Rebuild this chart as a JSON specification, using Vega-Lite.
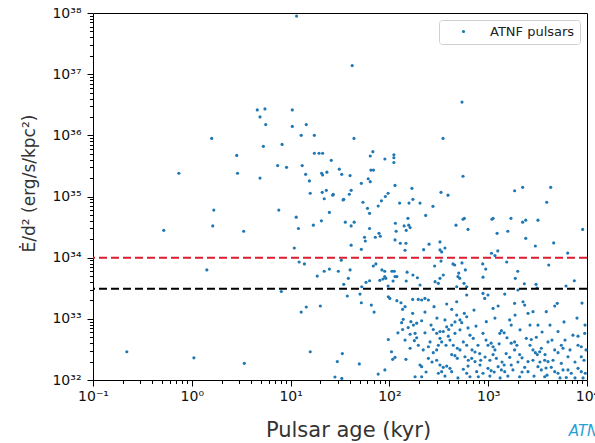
{
 "$schema": "https://vega.github.io/schema/vega-lite/v6.json",
 "width": 494, "height": 367,
 "autosize": {"type": "none"},
 "padding": {"left": 93, "top": 13, "right": 8, "bottom": 63},
 "background": "white",
 "config": {
  "font": "DejaVu Sans",
  "view": {"stroke": "black", "strokeWidth": 1},
  "axis": {"grid": false, "domain": false, "tickColor": "black", "tickWidth": 1, "labelColor": "#111", "labelFontSize": 14, "labelFlush": false, "labelOverlap": false, "titleColor": "#333", "titleFontWeight": "normal"}
 },
 "title": {"text": "ATNF", "orient": "bottom", "anchor": "end", "align": "left", "dx": -30, "dy": -20, "color": "#2a9fd6", "fontStyle": "italic", "fontWeight": "normal", "fontSize": 15},
 "layer": [
  {
   "data": {"values": [
{"age":11.5,"edot":8.9e37},{"age":1.59,"edot":8.9e35},{"age":0.74,"edot":2.4e35},{"age":2.85,"edot":4.7e35},{"age":2.9,"edot":2.4e35},{"age":4.9,"edot":2.0e35},{"age":4.6,"edot":2.6e36},{"age":5.5,"edot":2.7e36},{"age":4.9,"edot":2.0e36},{"age":5.6,"edot":1.5e36},
{"age":5.3,"edot":6.6e35},{"age":8.2,"edot":7.1e35},{"age":7.4,"edot":3.2e35},{"age":9.1,"edot":3.0e35},{"age":10.4,"edot":2.6e36},{"age":10.4,"edot":1.4e36},{"age":14.4,"edot":1.5e36},{"age":12.8,"edot":1.0e36},{"age":17.4,"edot":1.0e36},{"age":17.4,"edot":5.1e35},
{"age":19.4,"edot":5.1e35},{"age":21.1,"edot":5.1e35},{"age":13.1,"edot":3.2e35},{"age":14.2,"edot":2.3e35},{"age":15.5,"edot":1.8e35},{"age":20.6,"edot":2.4e35},{"age":21.1,"edot":2.25e35},{"age":23.3,"edot":2.5e35},{"age":25.8,"edot":3.9e35},{"age":15.8,"edot":1.13e35},
{"age":20.9,"edot":1.17e35},{"age":23,"edot":1.26e35},{"age":26.7,"edot":1.05e35},{"age":21.9,"edot":9.2e34},{"age":31.1,"edot":2.8e35},{"age":42,"edot":1.38e37},{"age":543,"edot":3.5e36},{"age":43.8,"edot":8.9e35},{"age":349,"edot":8.9e35},{"age":68,"edot":5.4e35},
{"age":64,"edot":4.6e35},{"age":90,"edot":4.1e35},{"age":111,"edot":4.8e35},{"age":111,"edot":4.3e35},{"age":111,"edot":3.6e35},{"age":32.9,"edot":2.3e35},{"age":40,"edot":2.2e35},{"age":65,"edot":2.7e35},{"age":69,"edot":2.7e35},{"age":61,"edot":1.95e35},
{"age":64,"edot":1.75e35},{"age":52,"edot":1.64e35},{"age":114,"edot":1.52e35},{"age":556,"edot":2.14e35},{"age":169,"edot":1.36e35},{"age":333,"edot":1.17e35},{"age":392,"edot":1.05e35},{"age":1850,"edot":1.24e35},{"age":2230,"edot":1.41e35},{"age":4290,"edot":1.41e35},
{"age":41,"edot":1.26e35},{"age":39.3,"edot":1.09e35},{"age":27,"edot":1.09e35},{"age":97,"edot":1.13e35},{"age":91,"edot":1.0e35},{"age":34.5,"edot":9.0e34},{"age":173,"edot":9.0e34},{"age":0.22,"edot":2.9e32},{"age":0.52,"edot":2.8e34},{"age":1.67,"edot":6.0e34},
{"age":1.63,"edot":3.3e34},{"age":1.42,"edot":6.3e33},{"age":1.05,"edot":2.3e32},{"age":3.35,"edot":2.7e34},{"age":3.4,"edot":1.87e32},{"age":7.6,"edot":6.0e34},{"age":8.05,"edot":2.8e33},{"age":11.4,"edot":4.6e34},{"age":12,"edot":3.0e34},{"age":10.9,"edot":1.44e34},
{"age":17,"edot":3.4e34},{"age":20.5,"edot":4.0e34},{"age":24.7,"edot":5.5e34},{"age":12.2,"edot":8.5e33},{"age":13.8,"edot":7.9e33},{"age":18.6,"edot":5.0e33},{"age":21.9,"edot":6.0e33},{"age":24.7,"edot":6.5e33},{"age":30.4,"edot":6.0e33},{"age":12.8,"edot":1.29e33},
{"age":14.4,"edot":1.56e33},{"age":20,"edot":1.62e33},{"age":15.8,"edot":2.9e32},{"age":29.7,"edot":2.0e32},{"age":54,"edot":8.05e34},{"age":60,"edot":6.4e34},{"age":63,"edot":5.3e34},{"age":77,"edot":7.0e34},{"age":83,"edot":8.5e34},{"age":127,"edot":7.8e34},
{"age":158,"edot":7.8e34},{"age":204,"edot":7.8e34},{"age":233,"edot":4.9e34},{"age":35.8,"edot":3.8e34},{"age":44,"edot":3.8e34},{"age":41,"edot":3.3e34},{"age":63,"edot":3.0e34},{"age":78.5,"edot":2.5e34},{"age":72,"edot":2.16e34},{"age":81,"edot":2.24e34},
{"age":56,"edot":2.16e34},{"age":57,"edot":1.87e34},{"age":115,"edot":3.65e34},{"age":154,"edot":4.4e34},{"age":141,"edot":3.3e34},{"age":157,"edot":3.4e34},{"age":162,"edot":3.1e34},{"age":117,"edot":2.7e34},{"age":148,"edot":2.8e34},{"age":114,"edot":1.95e34},
{"age":129,"edot":1.72e34},{"age":147,"edot":1.72e34},{"age":144,"edot":1.32e34},{"age":41,"edot":1.6e34},{"age":52,"edot":1.37e34},{"age":222,"edot":1.35e34},{"age":252,"edot":1.66e34},{"age":32.6,"edot":9.1e33},{"age":40,"edot":6.3e33},{"age":38.4,"edot":4.6e33},
{"age":68.7,"edot":7.3e33},{"age":73,"edot":7.9e33},{"age":84,"edot":6.3e33},{"age":89.6,"edot":6.0e33},{"age":89.6,"edot":4.9e33},{"age":92,"edot":4.6e33},{"age":106,"edot":6.0e33},{"age":112,"edot":6.0e33},{"age":114,"edot":4.9e33},{"age":119,"edot":4.9e33},
{"age":109,"edot":4.15e33},{"age":151,"edot":5.8e33},{"age":173,"edot":5.2e33},{"age":148,"edot":4.15e33},{"age":34.5,"edot":3.67e33},{"age":58,"edot":3.95e33},{"age":63,"edot":4.2e33},{"age":80,"edot":4.26e33},{"age":86,"edot":4.48e33},{"age":192,"edot":4.7e33},
{"age":276,"edot":6.9e34},{"age":3910,"edot":8.05e34},{"age":556,"edot":4.25e34},{"age":573,"edot":4.4e34},{"age":1090,"edot":4.25e34},{"age":1120,"edot":4.4e34},{"age":1700,"edot":4.4e34},{"age":2230,"edot":3.8e34},{"age":2400,"edot":4.1e34},{"age":3190,"edot":4.1e34},
{"age":472,"edot":3.4e34},{"age":625,"edot":2.9e34},{"age":1230,"edot":2.5e34},{"age":1580,"edot":2.7e34},{"age":2400,"edot":2.07e34},{"age":9040,"edot":2.9e34},{"age":325,"edot":1.81e34},{"age":325,"edot":1.34e34},{"age":338,"edot":1.24e34},{"age":365,"edot":1.44e34},
{"age":3000,"edot":1.55e34},{"age":4600,"edot":1.74e34},{"age":1080,"edot":1.18e34},{"age":1170,"edot":1.08e34},{"age":1250,"edot":1.29e34},{"age":6380,"edot":1.19e34},{"age":333,"edot":8.8e33},{"age":287,"edot":7.3e33},{"age":440,"edot":7.9e33},{"age":458,"edot":7.6e33},
{"age":543,"edot":8.2e33},{"age":880,"edot":7.9e33},{"age":1540,"edot":8.5e33},{"age":4100,"edot":7.6e33},{"age":587,"edot":6.3e33},{"age":944,"edot":6.5e33},{"age":503,"edot":5.6e33},{"age":1990,"edot":6.0e33},{"age":351,"edot":5.2e33},{"age":325,"edot":4.6e33},
{"age":494,"edot":4.9e33},{"age":515,"edot":4.6e33},{"age":886,"edot":4.8e33},{"age":1880,"edot":4.6e33},{"age":7440,"edot":4.2e33},{"age":290,"edot":4.05e33},{"age":313,"edot":3.8e33},{"age":569,"edot":3.8e33},{"age":2320,"edot":3.75e33},{"age":3050,"edot":3.67e33},
{"age":34,"edot":8.8e34},{"age":52.5,"edot":3.35e33},{"age":37.5,"edot":2.36e33},{"age":50.4,"edot":2.54e33},{"age":52,"edot":1.83e33},{"age":65.6,"edot":1.68e33},{"age":70,"edot":1.29e33},{"age":33.4,"edot":2.7e32},{"age":49.6,"edot":1.83e32},{"age":33,"edot":1.06e32},
{"age":97,"edot":3.44e33},{"age":204,"edot":3.57e33},{"age":480,"edot":3.35e33},{"age":606,"edot":3.35e33},{"age":97.5,"edot":2.3e33},{"age":101,"edot":2.16e33},{"age":119,"edot":1.98e33},{"age":131,"edot":1.83e33},{"age":136,"edot":1.43e33},{"age":144,"edot":1.58e33},
{"age":172,"edot":2.08e33},{"age":196,"edot":2.08e33},{"age":212,"edot":2.03e33},{"age":229,"edot":2.16e33},{"age":248,"edot":2.03e33},{"age":138,"edot":9.8e32},{"age":133,"edot":8.65e32},{"age":172,"edot":1.23e33},{"age":165,"edot":8.98e32},{"age":175,"edot":7.9e32},
{"age":189,"edot":8.5e32},{"age":212,"edot":9.3e32},{"age":136,"edot":6.7e32},{"age":155,"edot":7.2e32},{"age":162,"edot":5.6e32},{"age":182,"edot":5.8e32},{"age":189,"edot":4.9e32},{"age":179,"edot":4.4e32},{"age":264,"edot":7.9e32},{"age":278,"edot":6.7e32},
{"age":301,"edot":5.8e32},{"age":325,"edot":6.2e32},{"age":351,"edot":6.2e32},{"age":380,"edot":7.4e32},{"age":398,"edot":6.7e32},{"age":427,"edot":7.9e32},{"age":325,"edot":4.8e32},{"age":338,"edot":4.2e32},{"age":313,"edot":3.7e32},{"age":258,"edot":4.2e32},
{"age":248,"edot":3.5e32},{"age":301,"edot":3.1e32},{"age":278,"edot":2.8e32},{"age":220,"edot":3.1e32},{"age":395,"edot":5.2e32},{"age":410,"edot":4.5e32},{"age":461,"edot":5.8e32},{"age":443,"edot":3.7e32},{"age":487,"edot":3.3e32},{"age":518,"edot":3.1e32},
{"age":560,"edot":4.2e32},{"age":606,"edot":3.7e32},{"age":654,"edot":5.4e32},{"age":706,"edot":4.8e32},{"age":427,"edot":2.6e32},{"age":461,"edot":2.5e32},{"age":487,"edot":2.26e32},{"age":582,"edot":2.4e32},{"age":629,"edot":2.1e32},{"age":681,"edot":2.26e32},
{"age":735,"edot":2.0e32},{"age":301,"edot":2.1e32},{"age":325,"edot":1.76e32},{"age":248,"edot":2.26e32},{"age":351,"edot":1.61e32},{"age":380,"edot":1.69e32},{"age":204,"edot":1.76e32},{"age":212,"edot":1.65e32},{"age":147,"edot":2.18e32},{"age":162,"edot":3.3e32},
{"age":97.5,"edot":4.6e32},{"age":105,"edot":2.9e32},{"age":114,"edot":2.35e32},{"age":108,"edot":2.18e32},{"age":90,"edot":1.46e32},{"age":182,"edot":1.13e32},{"age":212,"edot":1.13e32},{"age":313,"edot":1.29e32},{"age":338,"edot":1.37e32},{"age":410,"edot":1.55e32},
{"age":427,"edot":1.37e32},{"age":560,"edot":1.5e32},{"age":606,"edot":1.29e32},{"age":654,"edot":1.13e32},{"age":765,"edot":1.37e32},{"age":794,"edot":1.13e32},{"age":480,"edot":1.15e33},{"age":518,"edot":9.6e32},{"age":540,"edot":8.65e32},{"age":427,"edot":1.43e33},
{"age":573,"edot":1.23e33},{"age":606,"edot":1.08e33},{"age":365,"edot":9.6e32},{"age":606,"edot":2.45e33},{"age":480,"edot":1.9e33},{"age":380,"edot":1.75e33},{"age":283,"edot":1.58e33},{"age":886,"edot":2.6e33},{"age":995,"edot":2.45e33},{"age":922,"edot":2.16e33},
{"age":1470,"edot":2.54e33},{"age":1120,"edot":1.48e33},{"age":1260,"edot":1.62e33},{"age":1850,"edot":1.79e33},{"age":2250,"edot":1.9e33},{"age":2340,"edot":1.68e33},{"age":2530,"edot":1.23e33},{"age":2840,"edot":1.31e33},{"age":4710,"edot":1.62e33},{"age":5000,"edot":1.79e33},
{"age":3870,"edot":1.31e33},{"age":1650,"edot":9.6e32},{"age":1710,"edot":7.9e32},{"age":957,"edot":9.0e32},{"age":1360,"edot":6.4e32},{"age":1450,"edot":5.9e32},{"age":1310,"edot":5.8e32},{"age":886,"edot":5.8e32},{"age":3190,"edot":7.9e32},{"age":5090,"edot":6.2e32},
{"age":2430,"edot":4.8e32},{"age":2730,"edot":4.6e32},{"age":3070,"edot":5.0e32},{"age":995,"edot":3.7e32},{"age":1070,"edot":4.0e32},{"age":1120,"edot":3.5e32},{"age":1710,"edot":4.0e32},{"age":1850,"edot":4.2e32},{"age":4030,"edot":4.2e32},{"age":5500,"edot":3.7e32},
{"age":5720,"edot":3.3e32},{"age":7210,"edot":5.4e32},{"age":8110,"edot":5.2e32},{"age":9480,"edot":5.8e32},{"age":3450,"edot":3.3e32},{"age":3320,"edot":2.9e32},{"age":2840,"edot":3.1e32},{"age":3000,"edot":2.8e32},{"age":3140,"edot":2.6e32},{"age":4710,"edot":3.1e32},
{"age":5090,"edot":2.8e32},{"age":8110,"edot":3.7e32},{"age":8750,"edot":3.5e32},{"age":1120,"edot":2.6e32},{"age":1210,"edot":2.26e32},{"age":1040,"edot":2.1e32},{"age":1520,"edot":2.7e32},{"age":1650,"edot":2.35e32},{"age":2080,"edot":2.6e32},{"age":820,"edot":2.7e32},
{"age":840,"edot":2.1e32},{"age":6420,"edot":2.4e32},{"age":8750,"edot":2.4e32},{"age":9330,"edot":2.1e32},{"age":1260,"edot":1.65e32},{"age":1360,"edot":1.46e32},{"age":1470,"edot":1.37e32},{"age":995,"edot":1.55e32},{"age":1070,"edot":1.42e32},{"age":1710,"edot":1.76e32},
{"age":1780,"edot":1.46e32},{"age":2340,"edot":1.61e32},{"age":2530,"edot":1.37e32},{"age":3190,"edot":1.65e32},{"age":3450,"edot":1.46e32},{"age":4350,"edot":1.61e32},{"age":4710,"edot":1.37e32},{"age":5090,"edot":1.29e32},{"age":6420,"edot":1.46e32},{"age":6930,"edot":1.29e32},
{"age":8110,"edot":1.55e32},{"age":8750,"edot":1.37e32},{"age":9610,"edot":1.29e32},{"age":886,"edot":1.29e32},{"age":1580,"edot":1.16e32},{"age":2080,"edot":1.13e32},{"age":3730,"edot":1.13e32},{"age":6170,"edot":1.1e32},{"age":2530,"edot":2.0e32},{"age":2840,"edot":2.1e32},
{"age":3730,"edot":2.1e32},{"age":4030,"edot":2.0e32},{"age":1850,"edot":3.1e32},{"age":5500,"edot":1.87e32},{"age":2000,"edot":2.96e33},{"age":3120,"edot":3.19e33},{"age":6130,"edot":3.44e33},{"age":8900,"edot":1.81e33},{"age":28.1,"edot":1.12e32},{"age":77,"edot":1.25e32},
{"age":950,"edot":4.5e32},{"age":1170,"edot":3.1e32},{"age":1380,"edot":1.97e32},{"age":1950,"edot":3.7e32},{"age":2200,"edot":2.3e32},{"age":2650,"edot":3.7e32},{"age":3760,"edot":2.6e32},{"age":4420,"edot":4.5e32},{"age":5990,"edot":4.5e32},{"age":6730,"edot":3.1e32},
{"age":7560,"edot":1.97e32},{"age":9770,"edot":3.1e32},{"age":3850,"edot":1.57e32},{"age":5330,"edot":1.08e32},{"age":7560,"edot":1.08e32},{"age":2910,"edot":1.16e32},{"age":2200,"edot":1.35e32},{"age":1320,"edot":1.08e32},{"age":1040,"edot":1.16e32},{"age":826,"edot":1.76e32},
{"age":788,"edot":3.7e32},{"age":686,"edot":3.1e32},{"age":625,"edot":7.1e32},{"age":753,"edot":7.6e32},{"age":518,"edot":6.6e32},{"age":374,"edot":3.7e32},{"age":270,"edot":1.97e32},{"age":235,"edot":1.35e32},{"age":365,"edot":1.16e32},{"age":494,"edot":1.08e32},
{"age":625,"edot":1.69e32},{"age":735,"edot":2.87e32},{"age":929,"edot":2.38e32},{"age":1290,"edot":3.9e32},{"age":1550,"edot":4.9e32},{"age":2100,"edot":6.6e32},{"age":3510,"edot":6.1e32},{"age":4220,"edot":7.9e32},{"age":5850,"edot":8.9e32},{"age":7920,"edot":1.03e33},
{"age":9550,"edot":7.9e32},{"age":1870,"edot":1.15e33},{"age":1170,"edot":1.03e33},{"age":718,"edot":1.39e33},{"age":303,"edot":1.03e33},{"age":229,"edot":1.29e33},{"age":196,"edot":3.7e32},{"age":144,"edot":4.5e32},{"age":122,"edot":5.9e32},{"age":229,"edot":5.9e32},
{"age":461,"edot":8.9e32},{"age":2650,"edot":7.9e32},{"age":4530,"edot":2.1e32},{"age":2000,"edot":1.97e32},{"age":3340,"edot":1.97e32},{"age":5720,"edot":1.46e32},{"age":9120,"edot":1.08e32},{"age":1450,"edot":1.76e32},{"age":1150,"edot":1.35e32},{"age":3940,"edot":1.2e32}
   ]},
   "mark": {"type": "circle", "size": 10, "opacity": 1},
   "encoding": {
    "x": {"field": "age", "type": "quantitative",
     "scale": {"type": "log", "domain": [0.1, 10000], "nice": false},
     "axis": {
      "values": [0.1,0.2,0.3,0.4,0.5,0.6,0.7,0.8,0.9,1,2,3,4,5,6,7,8,9,10,20,30,40,50,60,70,80,90,100,200,300,400,500,600,700,800,900,1000,2000,3000,4000,5000,6000,7000,8000,9000,10000],
      "labelExpr": "abs(log(datum.value)/LN10 - round(log(datum.value)/LN10)) < 0.001 ? '10' + ['⁻¹','⁰','¹','²','³','⁴'][round(log(datum.value)/LN10) + 1] : ''",
      "tickSize": {"condition": {"test": "abs(log(datum.value)/LN10 - round(log(datum.value)/LN10)) < 0.001", "value": 6}, "value": 3.5},
      "labelPadding": 3,
      "title": "Pulsar age (kyr)", "titleFontSize": 21, "titleX": 255, "titleY": 56, "titleBaseline": "alphabetic"
     }
    },
    "y": {"field": "edot", "type": "quantitative",
     "scale": {"type": "log", "domain": [1e32, 1e38], "nice": false},
     "axis": {
      "values": [1e32,2e32,3e32,4e32,5e32,6e32,7e32,8e32,9e32,1e33,2e33,3e33,4e33,5e33,6e33,7e33,8e33,9e33,1e34,2e34,3e34,4e34,5e34,6e34,7e34,8e34,9e34,1e35,2e35,3e35,4e35,5e35,6e35,7e35,8e35,9e35,1e36,2e36,3e36,4e36,5e36,6e36,7e36,8e36,9e36,1e37,2e37,3e37,4e37,5e37,6e37,7e37,8e37,9e37,1e38],
      "labelExpr": "abs(log(datum.value)/LN10 - round(log(datum.value)/LN10)) < 0.001 ? '10' + ['³²','³³','³⁴','³⁵','³⁶','³⁷','³⁸'][round(log(datum.value)/LN10) - 32] : ''",
      "tickSize": {"condition": {"test": "abs(log(datum.value)/LN10 - round(log(datum.value)/LN10)) < 0.001", "value": 6}, "value": 3.5},
      "labelPadding": 6,
      "title": "Ė/d² (erg/s/kpc²)", "titleFontSize": 17, "titleX": -59, "titleY": 170, "titleBaseline": "alphabetic"
     }
    },
    "color": {"datum": "ATNF pulsars", "type": "nominal", "scale": {"range": ["#1f77b4"]},
     "legend": {"title": null, "orient": "top-right", "offset": 7, "fillColor": "white", "strokeColor": "#d0d0d0", "cornerRadius": 3, "padding": 5, "labelFontSize": 13, "labelColor": "#222", "symbolSize": 10, "symbolType": "circle", "symbolOffset": 13, "labelOffset": 20}
    }
   }
  },
  {
   "data": {"values": [{"edot": 1e34}]},
   "mark": {"type": "rule", "color": "#dc1e32", "strokeWidth": 2, "strokeDash": [8, 4]},
   "encoding": {"y": {"field": "edot", "type": "quantitative"}}
  },
  {
   "data": {"values": [{"edot": 3.1e33}]},
   "mark": {"type": "rule", "color": "black", "strokeWidth": 2, "strokeDash": [8, 4]},
   "encoding": {"y": {"field": "edot", "type": "quantitative"}}
  }
 ]
}
